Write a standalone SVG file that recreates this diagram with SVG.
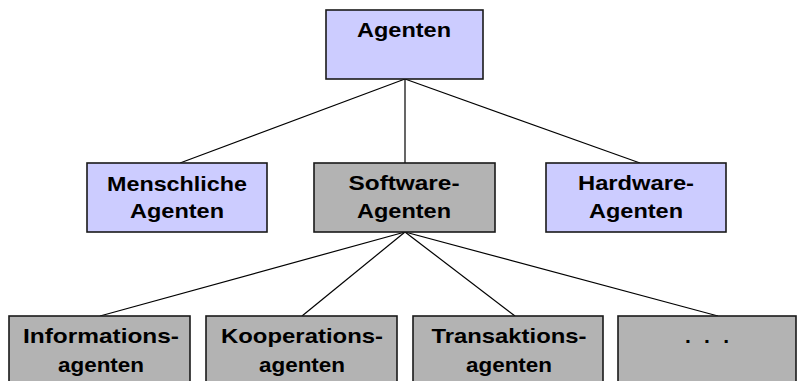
<svg xmlns="http://www.w3.org/2000/svg" width="797" height="381" viewBox="0 0 797 381">
  <style>
    .box { stroke: #1a1a1a; stroke-width: 1.6; }
    .agent { fill: #ccccff; }
    .soft { fill: #b3b3b3; }
    .lbl { font-family: "Liberation Sans", Arial, sans-serif; font-weight: bold; font-size: 21px; fill: #000; text-anchor: middle; }
    .edge { stroke: #000; stroke-width: 1.2; fill: none; }
  </style>
  <rect width="797" height="381" fill="#ffffff"/>

  <!-- connectors -->
  <g id="connectors">
    <line class="edge" x1="405" y1="79" x2="180" y2="163"/>
    <line class="edge" x1="405" y1="79" x2="405" y2="163"/>
    <line class="edge" x1="405" y1="79" x2="640" y2="163"/>
    <line class="edge" x1="405" y1="232" x2="100" y2="316"/>
    <line class="edge" x1="405" y1="232" x2="302" y2="316"/>
    <line class="edge" x1="405" y1="232" x2="515" y2="316"/>
    <line class="edge" x1="405" y1="232" x2="718" y2="316"/>
  </g>

  <g id="agenten">
    <rect class="box agent" x="326" y="10" width="157" height="69"/>
    <text class="lbl" x="404" y="37" textLength="94" lengthAdjust="spacingAndGlyphs">Agenten</text>
  </g>

  <g id="menschliche-agenten">
    <rect class="box agent" x="87" y="163" width="180" height="69"/>
    <text class="lbl" x="177" y="191" textLength="140" lengthAdjust="spacingAndGlyphs">Menschliche</text>
    <text class="lbl" x="177" y="218" textLength="94" lengthAdjust="spacingAndGlyphs">Agenten</text>
  </g>

  <g id="software-agenten">
    <rect class="box soft" x="314" y="163" width="181" height="69"/>
    <text class="lbl" x="404" y="190" textLength="111" lengthAdjust="spacingAndGlyphs">Software-</text>
    <text class="lbl" x="404" y="218" textLength="94" lengthAdjust="spacingAndGlyphs">Agenten</text>
  </g>

  <g id="hardware-agenten">
    <rect class="box agent" x="546" y="163" width="180" height="69"/>
    <text class="lbl" x="636" y="190" textLength="116" lengthAdjust="spacingAndGlyphs">Hardware-</text>
    <text class="lbl" x="636" y="218" textLength="94" lengthAdjust="spacingAndGlyphs">Agenten</text>
  </g>

  <g id="informationsagenten">
    <rect class="box soft" x="9" y="316" width="181" height="80"/>
    <text class="lbl" x="101" y="343" textLength="156" lengthAdjust="spacingAndGlyphs">Informations-</text>
    <text class="lbl" x="101" y="372" textLength="86" lengthAdjust="spacingAndGlyphs">agenten</text>
  </g>

  <g id="kooperationsagenten">
    <rect class="box soft" x="206" y="316" width="191" height="80"/>
    <text class="lbl" x="302" y="343" textLength="162" lengthAdjust="spacingAndGlyphs">Kooperations-</text>
    <text class="lbl" x="302" y="372" textLength="86" lengthAdjust="spacingAndGlyphs">agenten</text>
  </g>

  <g id="transaktionsagenten">
    <rect class="box soft" x="413" y="316" width="190" height="80"/>
    <text class="lbl" x="509" y="343" textLength="155" lengthAdjust="spacingAndGlyphs">Transaktions-</text>
    <text class="lbl" x="509" y="372" textLength="86" lengthAdjust="spacingAndGlyphs">agenten</text>
  </g>

  <g id="weitere">
    <rect class="box soft" x="618" y="316" width="178" height="80"/>
    <text class="lbl" x="707" y="343" textLength="44" lengthAdjust="spacing">. . .</text>
  </g>
</svg>
